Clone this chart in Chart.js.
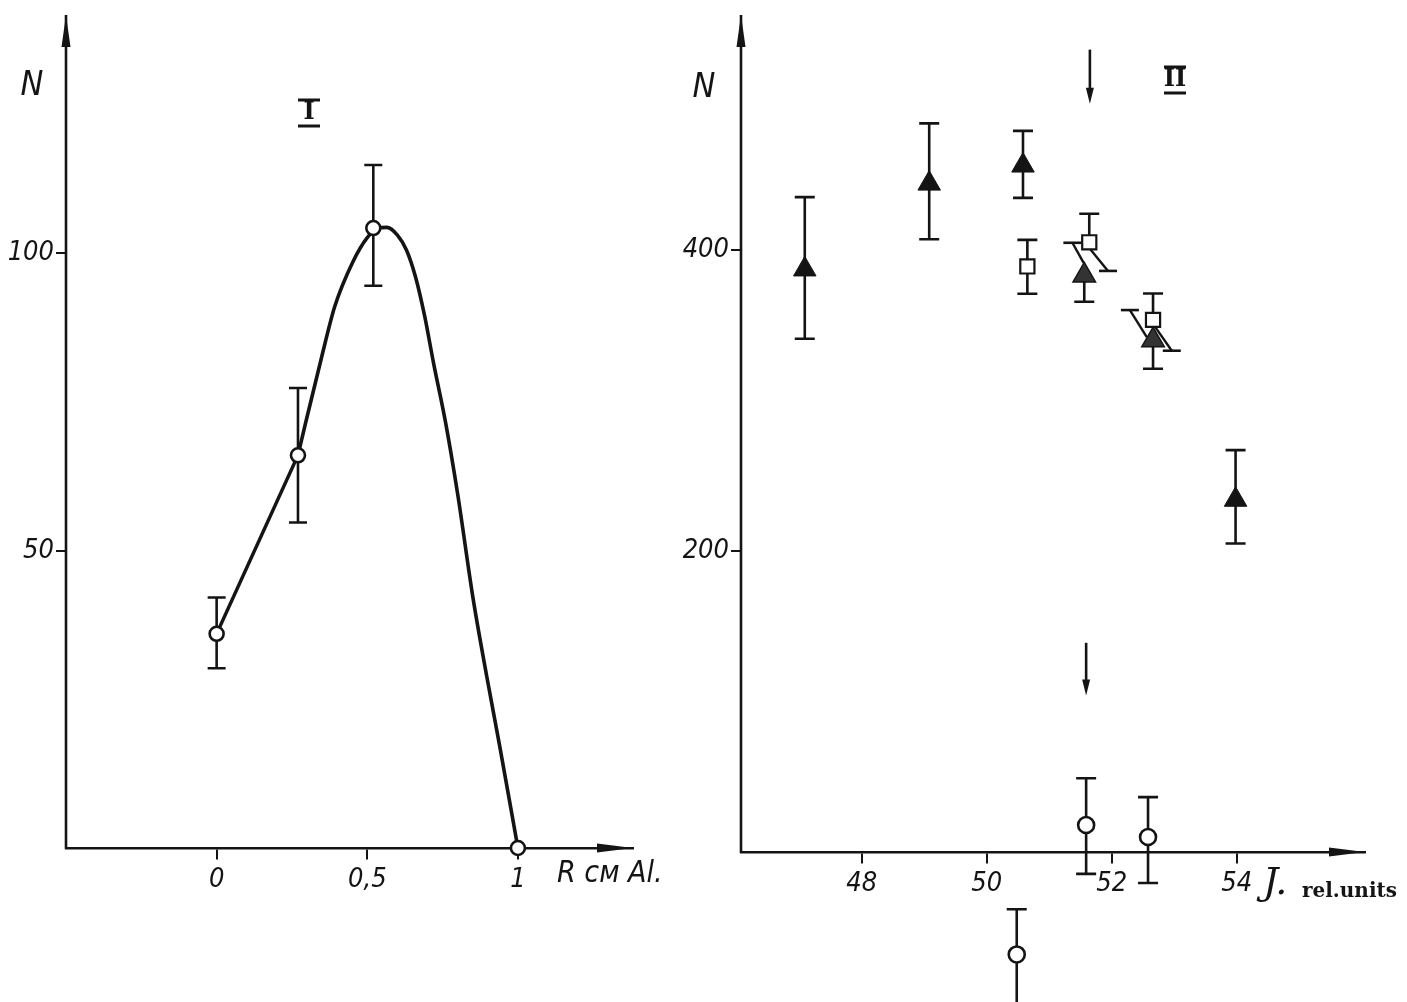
<!DOCTYPE html>
<html lang="ru">
<head>
<meta charset="UTF-8">
<title>N (R), N (J)</title>
<script src="https://cdn.jsdelivr.net/npm/chart.js"></script>
<style>
  body { margin: 0; background: #fff; }
  #wrap { position: relative; width: 1407px; height: 1002px; overflow: hidden; background: #fff; }
  canvas { position: absolute; top: 0; }
  #chartI { left: 0; }
  #chartII { left: 660px; }
</style>
</head>
<body>
<div id="wrap">
  <canvas id="chartI" width="660" height="1002"></canvas>
  <canvas id="chartII" width="747" height="1002"></canvas>
</div>

<script>
// ---- panel I : N vs R (cm Al) ----
const rPoints = [0, 0.27, 0.52, 1];
const nPoints = [36, 66, 104.2, 0];
const nPointsUp = [6.1, 11.3, 10.6, 0];
const nPointsDn = [5.8, 11.3, 9.7, 0];
// drawn curve
const rStraight = [0, 0.27];
const nStraight = [36, 66];
const rCurve = [0.27, 0.296, 0.348, 0.392, 0.452, 0.5, 0.535, 0.565, 0.6, 0.63, 0.66, 0.69, 0.72, 0.76, 0.8, 0.851, 0.896, 0.94, 1];
const nCurve = [66, 71.6, 82.4, 91, 98.5, 102.6, 104.1, 104.3, 103, 100.5, 96, 89.5, 81.5, 71.5, 59.5, 42, 29, 17, 0];
const ticksR = [0, 0.5, 1];
const tickLabelsR = ['0', '0,5', '1'];
const ticksNI = [50, 100];

// ---- panel II : N vs J (rel. units) ----
const jTri = [47.09, 49.08, 50.58, 53.98];
const nTri = [387, 444, 456, 234];
const triUp = [48, 40, 23, 33];
const triDn = [46, 37, 21.5, 29];

const jHatch = [51.56, 52.66];
const nHatch = [383, 340];
const hatchUp = [0, 0];
const hatchDn = [17.5, 19];

const jSquare = [50.65, 51.64, 52.66];
const nSquare = [389, 405, 353.5];
const squareUp = [17.6, 19, 17.5];
const squareDn = [18.2, 0, 0];

const jCircle = [51.59, 52.58, 50.48];
const nCircle = [18, 10, -68];
const circleUp = [31, 26.5, 30];
const circleDn = [32.5, 30.6, 45];

// slanted bars: first point carries the cap
const slantJ1 = [51.37, 51.94, 52.29, 52.96];
const slantN1 = [404.7, 386, 360, 333];
const slantJ2 = [51.55, 51.65, 52.56, 52.69];
const slantN2 = [391.4, 400.7, 342, 349];

// marker arrows at J = 51.6
const arrowJ = [51.65, 51.59];
const arrowFrom = [533, 139];
const arrowTo = [497, 104];

const ticksJ = [48, 50, 52, 54];
const ticksNII = [200, 400];

const INK = '#141414';
const tickFont = { family: "'DejaVu Sans Condensed', 'DejaVu Sans', sans-serif", style: 'italic', size: 27 };

function pts(xs, ys) { return xs.map((x, i) => ({ x: x, y: ys[i] })); }

const errorBars = {
  id: 'errorBars',
  beforeDatasetsDraw(chart) {
    const { ctx, scales: { x, y } } = chart;
    ctx.save();
    ctx.strokeStyle = INK;
    ctx.lineWidth = 2.6;
    chart.data.datasets.forEach(ds => {
      if (!ds.errUp) return;
      const w = ds.capHalf || 9;
      ds.data.forEach((p, i) => {
        const up = ds.errUp[i], dn = ds.errDn[i];
        if (!up && !dn) return;
        const px = x.getPixelForValue(p.x);
        const top = y.getPixelForValue(p.y + up);
        const bot = y.getPixelForValue(p.y - dn);
        ctx.beginPath();
        ctx.moveTo(px, top); ctx.lineTo(px, bot);
        if (up) { ctx.moveTo(px - w, top); ctx.lineTo(px + w, top); }
        if (dn) { ctx.moveTo(px - w, bot); ctx.lineTo(px + w, bot); }
        ctx.stroke();
      });
    });
    // caps on slanted bars
    chart.data.datasets.forEach(ds => {
      if (!ds.slantCap) return;
      const p = ds.data[0];
      const px = x.getPixelForValue(p.x), py = y.getPixelForValue(p.y);
      ctx.beginPath();
      ctx.moveTo(px - 9, py); ctx.lineTo(px + 9, py);
      ctx.stroke();
    });
    ctx.restore();
  }
};

function arrowHead(ctx, tx, ty, dir, len, half) {
  ctx.beginPath();
  if (dir === 'up') { ctx.moveTo(tx, ty); ctx.lineTo(tx - half, ty + len); ctx.lineTo(tx + half, ty + len); }
  if (dir === 'down') { ctx.moveTo(tx, ty); ctx.lineTo(tx - half, ty - len); ctx.lineTo(tx + half, ty - len); }
  if (dir === 'right') { ctx.moveTo(tx, ty); ctx.lineTo(tx - len, ty - half); ctx.lineTo(tx - len, ty + half); }
  ctx.closePath();
  ctx.fill();
}

function roman(ctx, txt, cx, cy, half) {
  ctx.font = "bold 24px 'DejaVu Serif', serif";
  ctx.textAlign = 'center';
  ctx.textBaseline = 'middle';
  ctx.fillText(txt, cx, cy);
  ctx.lineWidth = 3;
  ctx.beginPath();
  ctx.moveTo(cx - half, cy - 13); ctx.lineTo(cx + half, cy - 13);
  ctx.moveTo(cx - half, cy + 13); ctx.lineTo(cx + half, cy + 13);
  ctx.stroke();
}

const axisDecor = {
  id: 'axisDecor',
  afterDraw(chart, args, opts) {
    const { ctx, chartArea: a, scales: { x, y } } = chart;
    const y0 = y.getPixelForValue(0);
    ctx.save();
    ctx.fillStyle = INK;
    ctx.strokeStyle = INK;
    // vertical axis line stops at N = 0
    ctx.lineWidth = 2.6;
    ctx.beginPath(); ctx.moveTo(a.left, a.top); ctx.lineTo(a.left, y0 + 1); ctx.stroke();
    arrowHead(ctx, a.left, a.top, 'up', 32, 4.5);
    arrowHead(ctx, a.right, y0, 'right', 36, 4.5);

    if (opts.panel === 'I') {
      ctx.font = "italic 34px 'DejaVu Sans Condensed', 'DejaVu Sans', sans-serif";
      ctx.textAlign = 'center'; ctx.textBaseline = 'middle';
      ctx.fillText('N', 32, 86);
      roman(ctx, 'I', 309, 113, 11);
      ctx.font = "italic 30px 'DejaVu Sans Condensed', 'DejaVu Sans', sans-serif";
      ctx.textAlign = 'left';
      ctx.fillText('R см Al.', 557, 874);
    } else {
      ctx.font = "italic 34px 'DejaVu Sans Condensed', 'DejaVu Sans', sans-serif";
      ctx.textAlign = 'center'; ctx.textBaseline = 'middle';
      ctx.fillText('N', 44, 88);
      roman(ctx, 'II', 515, 80, 11);
      ctx.font = "italic 38px 'DejaVu Serif', serif";
      ctx.textAlign = 'left';
      ctx.fillText('J.', 603, 884);
      ctx.font = "bold 20px 'DejaVu Serif', serif";
      ctx.fillText('rel.units', 642, 892);

      ctx.lineWidth = 2.6;
      arrowJ.forEach((j, i) => {
        const px = x.getPixelForValue(j);
        const ya = y.getPixelForValue(arrowFrom[i]);
        const yb = y.getPixelForValue(arrowTo[i]);
        ctx.beginPath(); ctx.moveTo(px, ya); ctx.lineTo(px, yb - 10); ctx.stroke();
        arrowHead(ctx, px, yb, 'down', 16, 4);
      });
    }
    ctx.restore();
  }
};

function axisX(min, max, ticks, labels) {
  return {
    type: 'linear', min: min, max: max,
    position: { y: 0 },
    afterFit: s => { s.height = 0; s.paddingLeft = 0; s.paddingRight = 0; },
    afterBuildTicks: s => { s.ticks = ticks.map(v => ({ value: v })); },
    border: { display: true, color: INK, width: 2.6 },
    grid: { display: true, drawOnChartArea: false, drawTicks: true, tickLength: 10, color: INK, lineWidth: 2 },
    ticks: {
      autoSkip: false, maxRotation: 0, color: INK, font: tickFont, padding: 6,
      callback: (v, i) => labels[i]
    }
  };
}

function axisY(min, max, ticks, width) {
  return {
    type: 'linear', min: min, max: max,
    afterBuildTicks: s => { s.ticks = ticks.map(v => ({ value: v })); },
    afterFit: s => { s.width = width; s.paddingTop = 0; s.paddingBottom = 0; },
    border: { display: false },
    grid: { display: true, drawOnChartArea: false, drawTicks: true, tickLength: 10, color: INK, lineWidth: 2 },
    ticks: { autoSkip: false, color: INK, font: tickFont, padding: 2, callback: v => String(v) }
  };
}

const common = {
  responsive: false,
  animation: false,
  events: []
};

new Chart(document.getElementById('chartI'), {
  type: 'scatter',
  data: {
    datasets: [
      {
        data: pts(rPoints, nPoints), errUp: nPointsUp, errDn: nPointsDn, capHalf: 9,
        pointStyle: 'circle', pointRadius: 7, pointBackgroundColor: '#fff',
        pointBorderColor: INK, pointBorderWidth: 2.6, order: 0, clip: false
      },
      {
        data: pts(rStraight, nStraight), showLine: true, borderColor: INK, borderWidth: 3.4,
        pointRadius: 0, tension: 0, order: 1
      },
      {
        data: pts(rCurve, nCurve), showLine: true, borderColor: INK, borderWidth: 3.6,
        pointRadius: 0, cubicInterpolationMode: 'monotone', order: 1
      }
    ]
  },
  options: Object.assign({}, common, {
    // chart area: x 66..633, y 15..848 ; below is room for the R labels
    layout: { autoPadding: false, padding: { top: 15, right: 660 - 633, left: 0, bottom: 1002 - 848 } },
    scales: {
      x: axisX(-0.5, 1.382, ticksR, tickLabelsR),
      y: axisY(0, 140, ticksNI, 66)
    },
    plugins: { legend: { display: false }, tooltip: { enabled: false }, axisDecor: { panel: 'I' } }
  }),
  plugins: [errorBars, axisDecor]
});

const slantSets = slantJ1.map((j, i) => ({
  data: [{ x: j, y: slantN1[i] }, { x: slantJ2[i], y: slantN2[i] }],
  showLine: true, borderColor: INK, borderWidth: 2.4, pointRadius: 0, slantCap: true, order: 2, clip: false
}));

new Chart(document.getElementById('chartII'), {
  type: 'scatter',
  data: {
    datasets: [
      {
        data: pts(jTri, nTri), errUp: triUp, errDn: triDn, capHalf: 10,
        pointStyle: 'triangle', pointRadius: 13, pointBackgroundColor: INK,
        pointBorderColor: INK, pointBorderWidth: 1, order: 0
      },
      {
        data: pts(jHatch, nHatch), errUp: hatchUp, errDn: hatchDn, capHalf: 10,
        pointStyle: 'triangle', pointRadius: 13, pointBackgroundColor: '#333',
        pointBorderColor: INK, pointBorderWidth: 1.5, order: 0
      },
      {
        data: pts(jSquare, nSquare), errUp: squareUp, errDn: squareDn, capHalf: 10,
        pointStyle: 'rect', pointRadius: 10, pointBackgroundColor: '#fff',
        pointBorderColor: INK, pointBorderWidth: 2.2, order: 0
      },
      {
        data: pts(jCircle, nCircle), errUp: circleUp, errDn: circleDn, capHalf: 10,
        pointStyle: 'circle', pointRadius: 8, pointBackgroundColor: '#fff',
        pointBorderColor: INK, pointBorderWidth: 2.6, order: 0
      }
    ].concat(slantSets)
  },
  options: Object.assign({}, common, {
    // chart area: x 741..1365 (page), y 15..1002 ; N = 0 sits at y = 852
    layout: { autoPadding: false, padding: { top: 15, right: 747 - 705, left: 0, bottom: 0 } },
    scales: {
      x: axisX(46.07, 56.05, ticksJ, ticksJ.map(String)),
      y: axisY(-99.6, 556, ticksNII, 81)
    },
    plugins: { legend: { display: false }, tooltip: { enabled: false }, axisDecor: { panel: 'II' } }
  }),
  plugins: [errorBars, axisDecor]
});
</script>
</body>
</html>
